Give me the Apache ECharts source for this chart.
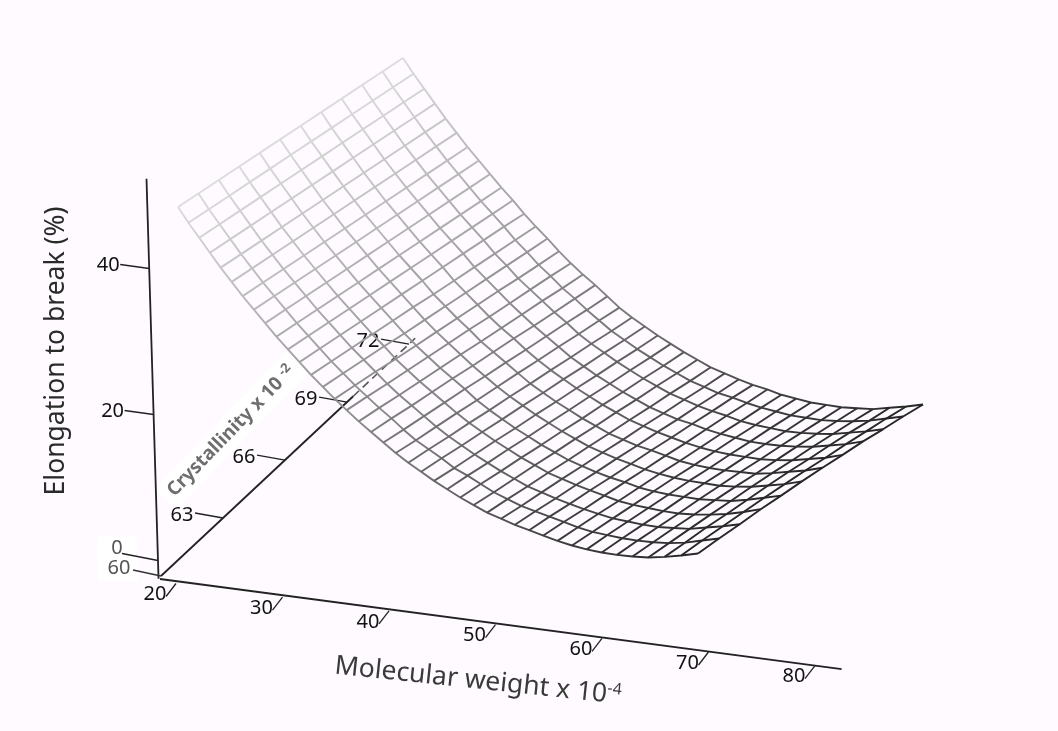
<!DOCTYPE html>
<html><head><meta charset="utf-8">
<style>html,body{margin:0;padding:0;background:#fefaff}#c{width:1058px;height:731px}</style>
<script src="https://cdn.jsdelivr.net/npm/echarts@6/dist/echarts.min.js"></script>
</head><body><div id="c"></div>
<script>
const mwTicks=[20,30,40,50,60,70,80];
const crystTicks=[60,63,66,69,72];
const elongTicks=[0,20,40];
const molWeight=[20,21.5,23,24.5,26,27.5,29,30.5,32,33.5,35,36.5,38,39.5,41,42.5,44,45.5,47,48.5,50,51.5,53,54.5,56,57.5,59,60.5,62,63.5,65,66.5,68,69.5,71,72.5,74,75.5,77,78.5,80];
const cryst=[60,61.09,62.18,63.27,64.36,65.45,66.55,67.64,68.73,69.82,70.91,72];
const elong00=[50.9,49.0,47.2,45.4,43.6,41.9,40.2,38.6,37.0,35.4,33.9,32.4,30.9,29.5,28.1,26.8,25.5,24.3,23.1,21.9,20.8,19.8,18.8,17.9,17.0,16.2,15.4,14.8,14.2,13.7,13.2,12.7,12.3,12.0,11.8,11.7,11.7,11.8,12.1,12.5,13.0];
const elong01=[50.9,49.0,47.2,45.4,43.6,41.9,40.2,38.6,37.0,35.4,33.9,32.4,30.9,29.5,28.1,26.8,25.5,24.3,23.0,21.8,20.8,19.8,18.7,17.9,17.0,16.1,15.4,14.7,14.2,13.7,13.2,12.7,12.3,12.1,11.9,11.8,11.8,11.9,12.2,12.7,13.2];
const elong02=[50.9,49.0,47.2,45.4,43.6,41.9,40.2,38.6,37.0,35.4,33.9,32.4,30.9,29.5,28.1,26.7,25.4,24.2,23.0,21.8,20.7,19.7,18.7,17.8,16.9,16.1,15.3,14.7,14.1,13.6,13.1,12.7,12.3,12.1,11.9,11.8,11.9,12.0,12.4,12.8,13.3];
const elong03=[50.9,49.0,47.2,45.4,43.6,41.9,40.2,38.6,37.0,35.4,33.9,32.4,30.9,29.5,28.0,26.7,25.4,24.2,23.0,21.8,20.7,19.7,18.7,17.8,16.9,16.1,15.3,14.7,14.1,13.6,13.1,12.6,12.3,12.1,11.9,11.8,11.9,12.1,12.4,12.9,13.5];
const elong04=[50.9,49.0,47.2,45.4,43.6,41.9,40.2,38.6,37.0,35.4,33.9,32.4,30.9,29.4,28.0,26.7,25.4,24.2,23.0,21.7,20.6,19.6,18.6,17.7,16.8,16.0,15.2,14.6,14.0,13.5,13.1,12.6,12.3,12.1,12.0,11.9,12.0,12.1,12.5,13.0,13.5];
const elong05=[50.9,49.0,47.2,45.4,43.6,41.9,40.2,38.6,37.0,35.4,33.9,32.4,30.9,29.4,28.0,26.7,25.4,24.1,22.9,21.7,20.6,19.6,18.6,17.7,16.8,16.0,15.2,14.6,14.0,13.5,13.0,12.6,12.3,12.1,12.0,11.9,12.0,12.2,12.6,13.0,13.6];
const elong06=[50.9,49.0,47.2,45.4,43.6,41.9,40.2,38.6,37.0,35.4,33.9,32.4,30.8,29.4,28.0,26.7,25.3,24.1,22.9,21.7,20.5,19.5,18.5,17.6,16.7,15.9,15.1,14.5,13.9,13.5,13.0,12.5,12.2,12.0,11.9,11.9,11.9,12.2,12.6,13.0,13.6];
const elong07=[50.9,49.0,47.2,45.4,43.6,41.9,40.2,38.6,37.0,35.4,33.9,32.4,30.8,29.4,28.0,26.6,25.3,24.1,22.8,21.6,20.5,19.5,18.5,17.6,16.7,15.9,15.1,14.5,13.9,13.4,12.9,12.5,12.2,12.0,11.9,11.8,11.9,12.1,12.5,12.9,13.5];
const elong08=[50.9,49.0,47.2,45.4,43.6,41.9,40.2,38.6,37.0,35.4,33.9,32.4,30.8,29.4,28.0,26.6,25.3,24.0,22.8,21.6,20.4,19.4,18.4,17.5,16.6,15.8,15.0,14.4,13.8,13.4,12.9,12.5,12.2,11.9,11.8,11.8,11.9,12.1,12.5,12.9,13.5];
const elong09=[50.9,49.0,47.2,45.4,43.6,41.9,40.2,38.6,37.0,35.4,33.9,32.4,30.8,29.4,27.9,26.6,25.3,24.0,22.8,21.5,20.4,19.4,18.4,17.5,16.6,15.8,15.0,14.4,13.8,13.3,12.9,12.4,12.1,11.9,11.7,11.7,11.8,12.0,12.4,12.8,13.3];
const elong10=[50.9,49.0,47.2,45.4,43.6,41.9,40.2,38.6,37.0,35.4,33.9,32.4,30.8,29.4,27.9,26.6,25.2,24.0,22.7,21.5,20.3,19.3,18.3,17.4,16.5,15.7,14.9,14.3,13.7,13.3,12.8,12.4,12.1,11.8,11.7,11.6,11.7,11.9,12.2,12.7,13.2];
const elong11=[50.9,49.0,47.2,45.4,43.6,41.9,40.2,38.6,37.0,35.4,33.9,32.3,30.8,29.4,27.9,26.5,25.2,24.0,22.7,21.4,20.3,19.3,18.3,17.4,16.5,15.7,14.9,14.3,13.7,13.2,12.8,12.3,12.0,11.7,11.6,11.5,11.6,11.7,12.1,12.5,13.0];
const elong=[elong00,elong01,elong02,elong03,elong04,elong05,elong06,elong07,elong08,elong09,elong10,elong11];
const mwAxis=m=>[176+10.65*(m-20),583.5+1.37*(m-20)];
const cAxis=c=>[161+20.67*(c-60),576-19.33*(c-60)];
const zAxis=z=>[158-0.22*z,560.5-7.3*z];
const surf=(m,c,z)=>[42.4+10.35*(m-20)+18.75*(c-60)+2.664*z,583.7+1.1*(m-20)-12.42*(c-60)-7.4*z];
const off=(p,d)=>[p[0]+d[0],p[1]+d[1]];
const series=[];
const ln=(data,color,width,extra)=>series.push(Object.assign({type:'line',data,symbol:'none',silent:true,animation:false,
  lineStyle:{color,width:width||1.5},z:2},extra||{}));
const AX='#222';
ln([zAxis(-2.5),zAxis(52.3)],AX,1.8);
ln([cAxis(60),cAxis(69.3)],AX,1.8);
ln([cAxis(69.3),cAxis(72.3)],'#555',1.6);series[series.length-1].lineStyle.type=[8,5];
ln([[160,579],mwAxis(82.5)],AX,1.8);
const texts=[];
const F='"Noto Sans",sans-serif';
const T=(p,text,o)=>texts.push({value:p,label:Object.assign({show:true,position:'inside',formatter:text,color:'#111',fontSize:20,fontFamily:F},o||{})});
T([231,431],'Crystallinity x 10 {s|-2}',{rotate:46,fontSize:19,fontWeight:'bold',color:'#6e6e6e',backgroundColor:'#ffffff',padding:[5,8],rich:{s:{fontSize:13,color:'#6e6e6e',fontFamily:F,fontWeight:'bold',verticalAlign:'top',padding:[0,0,8,0]}}});
T([56,351],'Elongation to break (%)',{rotate:90,fontSize:26.5,color:'#2a2a2a'});
T([478,681],'Molecular weight x 10{s|-4}',{rotate:-6,fontSize:26.5,color:'#3a3a3a',rich:{s:{fontSize:16,color:'#3a3a3a',verticalAlign:'top',padding:[0,0,12,0],fontFamily:F}}});
elongTicks.forEach(z=>{const p=zAxis(z);const d=z==0?[-36,-7]:[-29,-4];ln([p,off(p,d)],'#222',1.3);T(off(p,z==0?[-41,-12]:[-41,-3]),String(z),z==0?{color:'#555',backgroundColor:'#ffffff',padding:[0,14,4,14]}:{});});
{const p=cAxis(60);ln([p,off(p,[-28,-6])],'#333',1.3);T(off(p,[-43,-8]),'60',{color:'#555',backgroundColor:'#ffffff',padding:[2,8,4,10]});}
crystTicks.forEach(c=>{if(c==60)return;const p=cAxis(c);ln([p,off(p,[-28,-5])],'#222',1.3);T(off(p,[-41,-3]),String(c));});
mwTicks.forEach(m=>{const p=mwAxis(m);ln([p,off(p,[-10,13])],'#222',1.3);T(off(p,[-21,11]),String(m));});
series.push({type:'scatter',data:texts,symbolSize:0,silent:true,animation:false,z:1,itemStyle:{opacity:1}});
const shades=['#dcdcdc','#a8a8a8','#6a6a6a','#3c3c3c','#262626'];
const grad={type:'linear',x:0,y:0,x2:1,y2:0,colorStops:[{offset:0,color:shades[0]},{offset:.2,color:shades[1]},{offset:.5,color:shades[2]},{offset:.75,color:shades[3]},{offset:1,color:shades[4]}]};
const lineShade=i=>{const t=i/(molWeight.length-1)*4,k=Math.min(3,Math.floor(t)),f=t-k;const h=s=>parseInt(s.slice(1,3),16);const v=Math.round(h(shades[k])*(1-f)+h(shades[k+1])*f);return `rgb(${v},${v},${v})`;};
cryst.forEach((c,j)=>ln(molWeight.map((m,i)=>surf(m,c,elong[j][i])),grad,1.9,{z:3}));
molWeight.forEach((m,i)=>ln(cryst.map((c,j)=>surf(m,c,elong[j][i])),lineShade(i),1.9,{z:3}));
const chart=echarts.init(document.getElementById('c'),null,{renderer:'canvas'});
chart.setOption({animation:false,backgroundColor:'#fefaff',
 grid:{left:0,right:0,top:0,bottom:0},
 xAxis:{type:'value',min:0,max:1058,show:false},
 yAxis:{type:'value',min:0,max:731,inverse:true,show:false},
 series});
</script></body></html>
